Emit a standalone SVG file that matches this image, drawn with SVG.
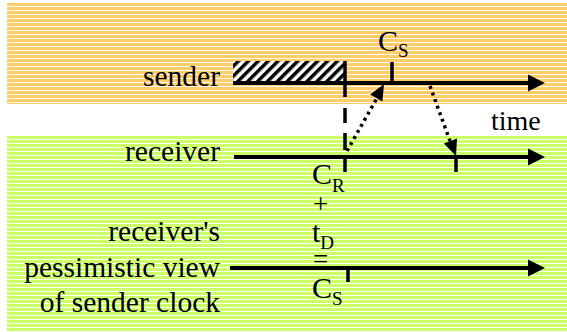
<svg xmlns="http://www.w3.org/2000/svg" width="567" height="332" viewBox="0 0 567 332">
  <defs>
    <pattern id="orangeStripes" patternUnits="userSpaceOnUse" x="0" y="3" width="8" height="4">
      <rect width="8" height="4" fill="#ffffff"/>
      <rect width="8" height="3" fill="#ffcc66"/>
    </pattern>
    <pattern id="greenStripes" patternUnits="userSpaceOnUse" x="0" y="136" width="8" height="4">
      <rect width="8" height="4" fill="#ffffff"/>
      <rect width="8" height="3" fill="#ccff66"/>
    </pattern>
    <pattern id="hatch" patternUnits="userSpaceOnUse" width="7" height="7" patternTransform="rotate(45)">
      <rect width="7" height="7" fill="#ffffff"/>
      <rect width="3.5" height="7" fill="#000000"/>
    </pattern>
  </defs>
  <style>
    text { font-family: "Liberation Serif", "Times New Roman", "DejaVu Serif", serif; font-size: 29.5px; fill: #000; }
    .sym { font-size: 30px; }
    .sub { font-size: 19px; }
    .op { font-size: 27px; }
    .axis { stroke: #000; stroke-width: 4; fill: none; }
    .tick { stroke: #000; stroke-width: 3.5; fill: none; }
    .dots { stroke: #000; stroke-width: 3.5; stroke-dasharray: 3 4; fill: none; }
    .head { fill: #000; }
  </style>

  <rect x="7" y="3" width="560" height="101" fill="url(#orangeStripes)"/>
  <rect x="7" y="136" width="560" height="195" fill="url(#greenStripes)"/>

  <g id="sender">
    <rect x="233" y="61" width="112" height="22" fill="url(#hatch)"/>
    <text x="220" y="86" text-anchor="end">sender</text>
    <line class="axis" x1="233" y1="83" x2="530" y2="83"/>
    <polygon class="head" points="545,83 528,74.5 528,91.5"/>
    <line class="tick" x1="345" y1="61" x2="345" y2="97"/>
    <line class="tick" x1="392" y1="62" x2="392" y2="83"/>
    <text class="sym" x="378" y="51">C<tspan class="sub" dy="6">S</tspan></text>
  </g>

  <g id="time-label">
    <text x="491" y="130" style="font-size:28px">time</text>
  </g>

  <g id="receiver">
    <text x="220" y="161" text-anchor="end">receiver</text>
    <line class="axis" x1="234" y1="157" x2="530" y2="157"/>
    <polygon class="head" points="545,157 528,148.5 528,165.5"/>
    <line class="tick" x1="345" y1="155" x2="345" y2="172"/>
    <line class="tick" x1="456" y1="155" x2="456" y2="172"/>
    <text class="sym" x="312" y="184">C<tspan class="sub" dy="8">R</tspan></text>
  </g>

  <g id="equation">
    <text class="op" x="313" y="213">+</text>
    <text class="sym" x="312" y="242">t<tspan class="sub" dy="7">D</tspan></text>
    <text class="op" x="313" y="268">=</text>
  </g>

  <g id="pessimistic-view">
    <text x="220" y="241" text-anchor="end">receiver's</text>
    <text x="220" y="277" text-anchor="end">pessimistic view</text>
    <text x="220" y="312" text-anchor="end">of sender clock</text>
    <line class="axis" x1="230" y1="268" x2="530" y2="268"/>
    <polygon class="head" points="545,268 528,259.5 528,276.5"/>
    <line class="tick" x1="348" y1="266" x2="348" y2="282"/>
    <text class="sym" x="312" y="298">C<tspan class="sub" dy="7">S</tspan></text>
  </g>

  <g id="connectors">
    <line class="tick" x1="345" y1="108" x2="345" y2="123"/>
    <line class="tick" x1="345" y1="133" x2="345" y2="150"/>
    <line class="dots" x1="347" y1="151" x2="377" y2="98"/>
    <polygon class="head" points="384,84 382.4,101.4 370.2,94.6"/>
    <line class="dots" x1="430" y1="86" x2="450" y2="141"/>
    <polygon class="head" points="456,156 457,138.6 443.8,143.4"/>
  </g>
</svg>
